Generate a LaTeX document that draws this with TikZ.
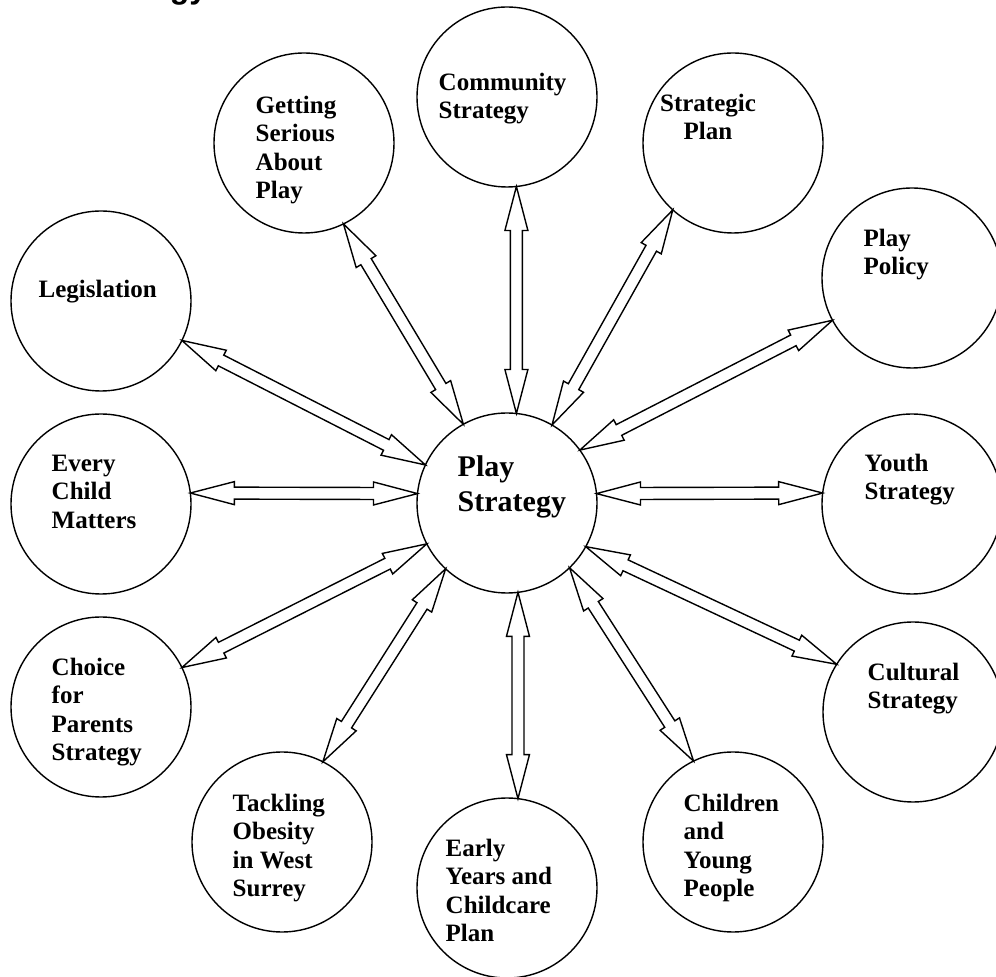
\documentclass[tikz,border=0pt]{standalone}
\usepackage{fontspec}
\setmainfont{Liberation Serif}
\setsansfont{Liberation Sans}
\usetikzlibrary{calc}
\newcommand\headlen{22pt}
\newcommand\headhalf{5.75pt}
\newcommand\shafthalf{3pt}
\newcommand\dblarrow[2]{%
  \draw (#1) -- ($(#1)!\headlen!(#2)!\headhalf!90:(#2)$) -- ($(#1)!\headlen!(#2)!\shafthalf!90:(#2)$)
    -- ($(#2)!\headlen!(#1)!\shafthalf!-90:(#1)$) -- ($(#2)!\headlen!(#1)!\headhalf!-90:(#1)$) -- (#2)
    -- ($(#2)!\headlen!(#1)!\headhalf!90:(#1)$) -- ($(#2)!\headlen!(#1)!\shafthalf!90:(#1)$)
    -- ($(#1)!\headlen!(#2)!\shafthalf!-90:(#2)$) -- ($(#1)!\headlen!(#2)!\headhalf!-90:(#2)$) -- cycle;}
\begin{document}
\begin{tikzpicture}[x=0.5pt,y=-0.5pt,line width=0.7pt,line join=miter,
    bubble/.style={circle,draw,minimum size=90pt,inner sep=0pt,outer sep=0pt},
    txt/.style={anchor=north west,inner sep=0pt,align=left,font=\bfseries\fontsize{12.5}{14.25}\selectfont}]
    \useasboundingbox (0,0) rectangle (996,977);
    \node[anchor=base east,inner sep=0pt,font=\sffamily\bfseries\fontsize{16}{19}\selectfont](title)at(208,-1){Strategy};
    \node[bubble](play)at(507,503){};
    \node[bubble](comm)at(507,97){};
    \node[bubble](strat)at(733,143){};
    \node[bubble](policy)at(912,278){};
    \node[bubble](youth)at(912,504){};
    \node[bubble](cult)at(913,712){};
    \node[bubble](child)at(733,842){};
    \node[bubble](early)at(507,888){};
    \node[bubble](tackle)at(282,842){};
    \node[bubble](choice)at(101,707){};
    \node[bubble](every)at(101,504){};
    \node[bubble](legis)at(101,301){};
    \node[bubble](serious)at(304,143){};
    \node[txt,font=\bfseries\fontsize{15}{17.5}\selectfont](playtxt)at(457,455){Play\\Strategy};
    \node[txt](commtxt)at(438,72){Community\\Strategy};
    \node[txt,anchor=north,align=center](strattxt)at(708,93){Strategic\\Plan};
    \node[txt](policytxt)at(863,228){Play\\Policy};
    \node[txt](youthtxt)at(864,453){Youth\\Strategy};
    \node[txt](culttxt)at(867,662){Cultural\\Strategy};
    \node[txt](childtxt)at(683,793){Children\\and\\Young\\People};
    \node[txt](earlytxt)at(445,838){Early\\Years and\\Childcare\\Plan};
    \node[txt](tackletxt)at(232,793){Tackling\\Obesity\\in West\\Surrey};
    \node[txt](choicetxt)at(51,657){Choice\\for\\Parents\\Strategy};
    \node[txt](everytxt)at(51,454){Every\\Child\\Matters};
    \node[txt](legistxt)at(38,279){Legislation};
    \node[txt](serioustxt)at(255,95){Getting\\Serious\\About\\Play};
    \dblarrow{play.155}{legis.-26}
    \dblarrow{play.119}{serious.-64}
    \dblarrow{play.84}{comm.-84}
    \dblarrow{play.60}{strat.-132}
    \dblarrow{play.36}{policy.-152}
    \dblarrow{play.6}{youth.173}
    \dblarrow{play.-29}{cult.148}
    \dblarrow{play.-46}{child.116}
    \dblarrow{play.-83}{early.83}
    \dblarrow{play.-133}{tackle.63}
    \dblarrow{play.-153}{choice.26}
    \dblarrow{play.174}{every.7}
\end{tikzpicture}
\end{document}
